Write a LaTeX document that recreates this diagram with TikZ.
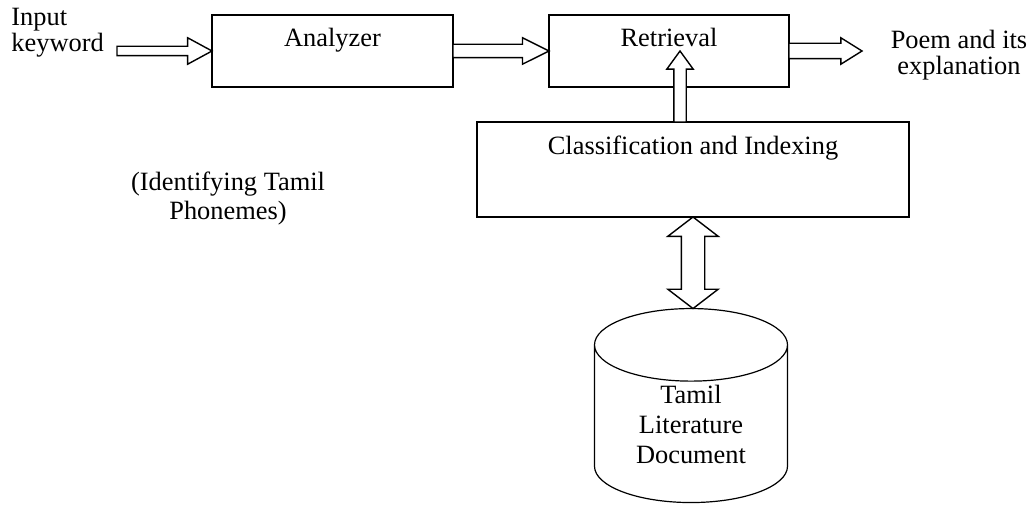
\documentclass[tikz,border=0pt]{standalone}
\usepackage{fontspec}
\setmainfont{Liberation Serif}
\usetikzlibrary{arrows.meta,positioning,calc,shapes.geometric,shapes.arrows}
\newcommand{\txtsize}{\fontsize{13.2}{12.8}\selectfont}
\tikzset{
  blk/.style        = {draw, line width=0.7pt, inner sep=0pt, outer sep=0pt,
                       font=\txtsize, text height=16pt, text depth=20pt},
  store/.style      = {draw, line width=0.6pt, cylinder, shape border rotate=90,
                       aspect=0.66, inner sep=0pt, outer sep=0pt, align=center,
                       font=\fontsize{13.2}{15}\selectfont},
  harrow/.style     = {draw, fill=white, line width=0.7pt, single arrow,
                       single arrow head indent=0pt, inner xsep=0pt,
                       inner ysep=3pt, outer sep=0pt, anchor=tail,
                       single arrow head extend=3.25pt, single arrow tip angle=56},
  darrow/.style     = {draw, fill=white, line width=0.7pt, double arrow,
                       double arrow head indent=0pt, inner xsep=0pt,
                       inner ysep=5.5pt, outer sep=0pt,
                       double arrow head extend=6.75pt, double arrow tip angle=105},
  lbl/.style        = {font=\txtsize, inner sep=0pt, align=center},
}
% hollow block arrow laid from one point to another
\newcommand{\blkarrow}[3][]{%
  \path let \p1 = ($(#3)-(#2)$), \n1 = {veclen(\x1,\y1)}, \n2 = {atan2(\y1,\x1)}
    in node[harrow, #1, minimum height=\n1, rotate=\n2] at (#2) {};}
\newcommand{\dblarrow}[3][]{%
  \path let \p1 = ($(#3)-(#2)$), \n1 = {veclen(\x1,\y1)}, \n2 = {atan2(\y1,\x1)}
    in node[darrow, #1, minimum height=\n1, rotate=\n2]
       at ($(#2)!0.5!(#3)$) {};}

\begin{document}
\begin{tikzpicture}[x=0.5pt, y=-0.5pt]
  \useasboundingbox (0,0) rectangle (1033,506);

  % ---------- processing blocks ----------------------------------------
  \node[blk, minimum width=120.5pt] (ana) at (332.5, 51) {Analyzer};
  \node[blk, minimum width=120pt]   (ret) at (669, 51)   {Retrieval};
  \node[blk, minimum width=216pt, text height=16.5pt, text depth=31pt]
    (cls) at (693, 169.5) {Classification and Indexing};

  % ---------- document store -------------------------------------------
  \node[store, minimum width=96.5pt, minimum height=97pt] (db) at (691, 424)
    {Tamil\\ Literature\\ Document};

  % ---------- free texts -----------------------------------------------
  \node[lbl, align=left, anchor=west] (kw) at (11, 33) {Input\\ keyword};
  \node[lbl] (res) at (959, 55) {Poem and its\\ explanation};
  \node[lbl, font=\fontsize{13.2}{14.5}\selectfont] (phon) at (228, 199)
    {(Identifying Tamil\\ Phonemes)};

  % ---------- connectors -----------------------------------------------
  \coordinate (in)  at (117, 51);
  \coordinate (out) at (862, 51);
  \coordinate (up)  at (680, 0);

  \blkarrow[inner ysep=2pt, single arrow head extend=4.25pt,
            single arrow tip angle=57]{in}{ana.west}
  \blkarrow[inner ysep=3pt, single arrow head extend=3.25pt,
            single arrow tip angle=53]{ana.east}{ret.west}
  \blkarrow[inner ysep=3.5pt, single arrow head extend=2.75pt,
            single arrow tip angle=64]{ret.east}{out}
  \blkarrow[inner ysep=2.75pt, single arrow head extend=3.5pt,
            single arrow tip angle=72]{up |- cls.north}{up |- ret.center}
  \dblarrow{cls.south}{cls.south |- db.north}

\end{tikzpicture}
\end{document}
